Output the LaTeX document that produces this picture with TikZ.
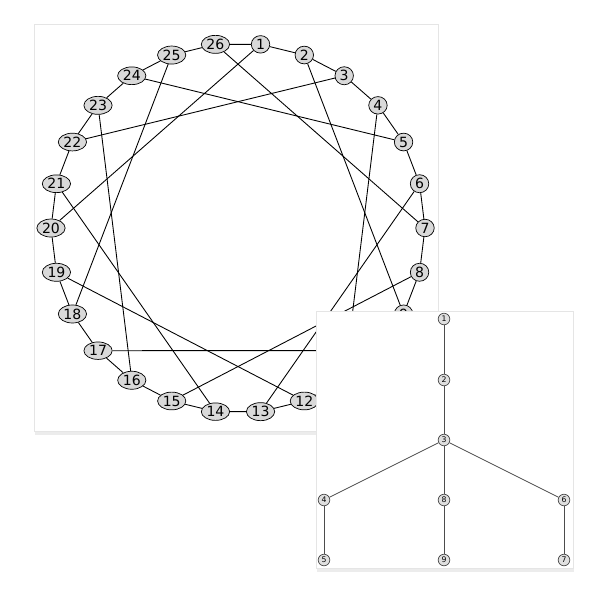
\documentclass[tikz,border=0pt]{standalone}
\usepackage{fontspec}
\setmainfont{DejaVu Sans}
\usepackage{tikz}
\usetikzlibrary{shapes.geometric,shadows}

\tikzset{
    gnode/.style={ellipse, draw, fill=gray!30, inner sep=0.6pt, minimum width=10.5pt, minimum height=9.6pt, font=\fontsize{8}{9}\selectfont},
    tnode/.style={circle, draw=gray!60!black, fill=gray!25, inner sep=0pt, minimum size=6.6pt, font=\fontsize{4.4}{5}\selectfont},
    tedge/.style={draw=gray!60!black, line width=0.4pt},
    panel/.style={draw=gray!20, fill=white, drop shadow={opacity=0.15, shadow xshift=0.6pt, shadow yshift=-2.2pt}},
}

\begin{document}
\begin{tikzpicture}[x=0.02cm, y=-0.02cm]
            \useasboundingbox (0,0) rectangle (600,600);
            \path[panel] (34,24) rectangle (438,431);
            \foreach \i in {1,...,26} {
                \pgfmathsetmacro{\ang}{83.08-(\i-1)*13.846}
                \node[gnode] (g\i) at ({238+187*cos(\ang)}, {228-185*sin(\ang)}) {\i};
            }
            \foreach \i [evaluate=\i as \j using {int(mod(\i,26)+1)}] in {1,...,26}
                \draw[line width=0.5pt] (g\i) -- (g\j);
            \foreach \a/\b in {1/20, 3/22, 5/24, 7/26, 9/2, 11/4, 13/6, 15/8, 17/10, 19/12, 21/14, 23/16, 25/18}
                \draw[line width=0.5pt] (g\a) -- (g\b);

            \path[panel] (316,311) rectangle (573,568);
            \node[tnode] (t1) at (444, 319) {1};
            \node[tnode] (t2) at (444, 380) {2};
            \node[tnode] (t3) at (444, 440) {3};
            \node[tnode] (t4) at (324, 500) {4};
            \node[tnode] (t8) at (444, 500) {8};
            \node[tnode] (t6) at (564, 500) {6};
            \node[tnode] (t5) at (324, 560) {5};
            \node[tnode] (t9) at (444, 560) {9};
            \node[tnode] (t7) at (564, 560) {7};
            \draw[tedge] (t1) -- (t2);
            \draw[tedge] (t2) -- (t3);
            \draw[tedge] (t3) -- (t4);
            \draw[tedge] (t3) -- (t8);
            \draw[tedge] (t3) -- (t6);
            \draw[tedge] (t4) -- (t5);
            \draw[tedge] (t8) -- (t9);
            \draw[tedge] (t6) -- (t7);
\end{tikzpicture}
\end{document}
